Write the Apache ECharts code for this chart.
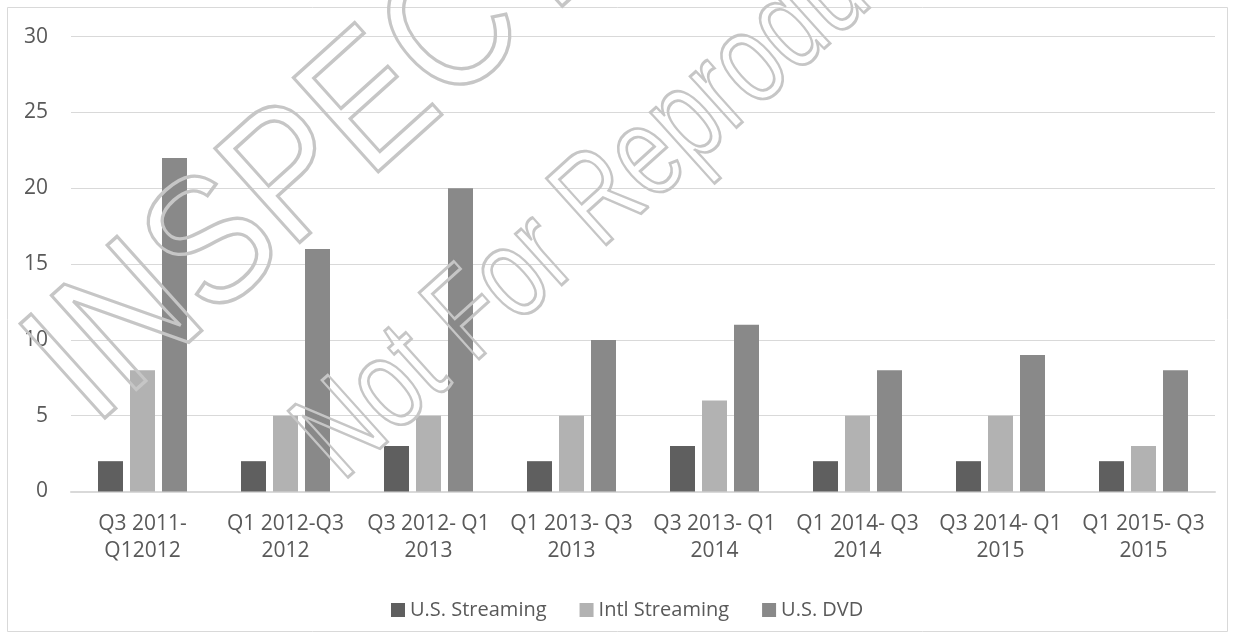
<!DOCTYPE html>
<html>
<head>
<meta charset="utf-8">
<script src="https://cdn.jsdelivr.net/npm/echarts@6/dist/echarts.min.js"></script>
<style>
html,body{margin:0;padding:0;background:#fff;}
#chart{width:1236px;height:639px;}
</style>
</head>
<body>
<div id="chart"></div>
<script>
const categories = [
  "Q3 2011-\nQ12012",
  "Q1 2012-Q3\n2012",
  "Q3 2012- Q1\n2013",
  "Q1 2013- Q3\n2013",
  "Q3 2013- Q1\n2014",
  "Q1 2014- Q3\n2014",
  "Q3 2014- Q1\n2015",
  "Q1 2015- Q3\n2015"
];
const usStreaming = [2, 2, 3, 2, 3, 2, 2, 2];
const intlStreaming = [8, 5, 5, 5, 6, 5, 5, 3];
const usDVD = [22, 16, 20, 10, 11, 8, 9, 8];
const seriesNames = ["U.S. Streaming", "Intl Streaming", "U.S. DVD"];
const watermark1 = "INSPECTION COPY";
const watermark2 = "Not For Reproduction";

const FONT = "'Open Sans', 'DejaVu Sans', sans-serif";
const TEXT = '#595959';
const colors = ['#5f5f5f', '#b2b2b2', '#898989'];
const deg = Math.PI / 180;

const chart = echarts.init(document.getElementById('chart'));
chart.setOption({
  animation: false,
  backgroundColor: '#ffffff',
  color: colors,
  textStyle: { fontFamily: FONT },
  grid: { left: 71, right: 21, top: 36.7, bottom: 147.5, containLabel: false },
  legend: {
    data: seriesNames,
    left: 386,
    top: 595,
    itemWidth: 14,
    itemHeight: 14,
    itemGap: 33,
    icon: 'rect',
    textStyle: { color: TEXT, fontSize: 20, fontFamily: FONT }
  },
  xAxis: {
    type: 'category',
    data: categories,
    axisLine: { show: true, lineStyle: { color: '#d9d9d9', width: 2 } },
    axisTick: { show: false },
    axisLabel: { interval: 0, color: TEXT, fontSize: 21, lineHeight: 27, margin: 19, fontFamily: FONT }
  },
  yAxis: {
    type: 'value',
    min: 0,
    max: 30,
    interval: 5,
    axisLine: { show: false },
    axisTick: { show: false },
    axisLabel: { color: TEXT, fontSize: 21, margin: 23, fontFamily: FONT },
    splitLine: { lineStyle: { color: '#d9d9d9', width: 1 } }
  },
  series: [
    { name: seriesNames[0], type: 'bar', data: usStreaming, barWidth: 25, barGap: '28%' },
    { name: seriesNames[1], type: 'bar', data: intlStreaming, barWidth: 25, barGap: '28%' },
    { name: seriesNames[2], type: 'bar', data: usDVD, barWidth: 25, barGap: '28%' }
  ],
  graphic: [
    {
      type: 'rect', silent: true, z: 0,
      shape: { x: 7.5, y: 7.5, width: 1220, height: 624 },
      style: { fill: 'none', stroke: '#d9d9d9', lineWidth: 1 }
    },
    {
      type: 'text', silent: true, z: 100,
      x: 60, y: 390, rotation: 42 * deg, scaleX: 0.86, scaleY: 1,
      style: {
        text: watermark1, fontSize: 184, fontFamily: "'Liberation Sans', Arial, sans-serif",
        fill: 'rgba(255,255,255,0)', stroke: '#c6c6c6', lineWidth: 3.5,
        align: 'left', verticalAlign: 'middle', textAlign: 'left', textVerticalAlign: 'middle'
      }
    },
    {
      type: 'text', silent: true, z: 100,
      x: 318, y: 456, rotation: 42 * deg, scaleX: 0.74, scaleY: 1,
      style: {
        text: watermark2, fontSize: 130, fontFamily: "'Liberation Sans', Arial, sans-serif",
        fill: 'rgba(255,255,255,0)', stroke: '#c6c6c6', lineWidth: 3,
        align: 'left', verticalAlign: 'middle', textAlign: 'left', textVerticalAlign: 'middle'
      }
    }
  ]
});
</script>
</body>
</html>
